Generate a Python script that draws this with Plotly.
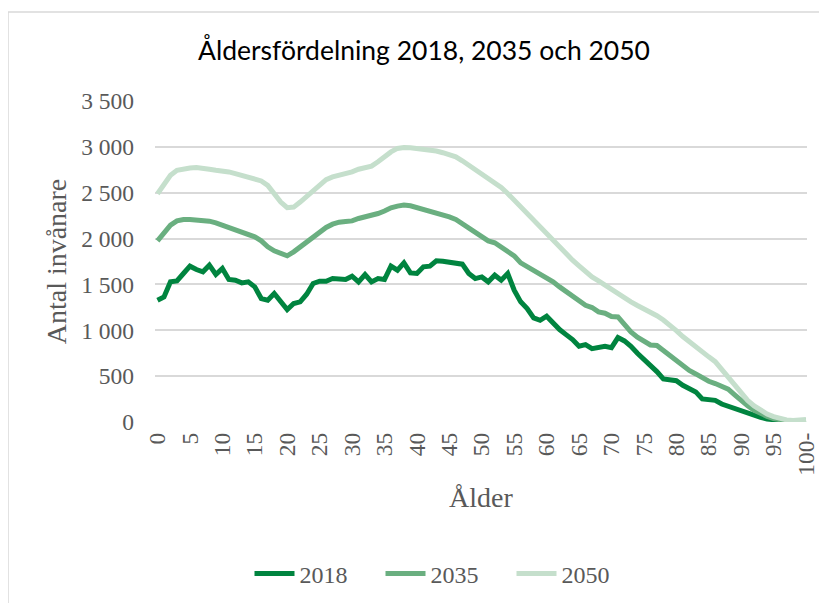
import plotly.graph_objects as go

ages = list(range(0, 101))
age_labels = [str(a) for a in range(0, 100)] + ["100-"]
tick_vals = list(range(0, 101, 5))
tick_text = [age_labels[a] for a in tick_vals]

v2018 = [1328, 1364, 1528, 1539, 1619, 1699, 1662, 1637, 1710, 1608,
         1674, 1554, 1546, 1517, 1528, 1473, 1346, 1328, 1401, 1310,
         1226, 1292, 1310, 1393, 1510, 1535, 1535, 1564, 1564, 1554,
         1590, 1528, 1608, 1528, 1564, 1554, 1699, 1655, 1735, 1626,
         1619, 1692, 1699, 1757, 1753, 1746, 1728, 1721, 1619, 1564,
         1582, 1528, 1601, 1546, 1619, 1437, 1310, 1237, 1135, 1109,
         1153, 1073, 1008, 953, 899, 826, 844, 800, 811, 826,
         811, 920, 884, 826, 750, 688, 622, 550, 470, 453,
         450, 400, 361, 328, 252, 250, 236, 196, 170, 147,
         115, 91, 68, 50, 33, 22, 13, 8, 4, 4,
         10]

v2035 = [1975, 2062, 2146, 2193, 2208, 2208, 2204, 2197, 2190, 2172,
         2146, 2121, 2099, 2073, 2048, 2019, 1975, 1910, 1866, 1844,
         1812, 1855, 1910, 1965, 2019, 2073, 2121, 2157, 2179, 2186,
         2193, 2219, 2237, 2244, 2273, 2300, 2335, 2354, 2365, 2357,
         2339, 2321, 2303, 2285, 2263, 2237, 2208, 2164, 2121, 2073,
         2026, 1975, 1954, 1910, 1866, 1812, 1735, 1692, 1655, 1612,
         1575, 1528, 1473, 1426, 1375, 1321, 1273, 1248, 1200, 1186,
         1150, 1146, 1055, 982, 925, 880, 840, 835, 779, 718,
         665, 610, 562, 524, 477, 444, 419, 382, 358, 296,
         233, 176, 128, 91, 62, 38, 22, 11, 6, 4,
         13]

v2050 = [2489, 2580, 2690, 2745, 2763, 2770, 2774, 2770, 2756, 2745,
         2738, 2727, 2709, 2690, 2679, 2654, 2628, 2580, 2489, 2398,
         2337, 2343, 2398, 2460, 2518, 2580, 2643, 2672, 2687, 2701,
         2727, 2756, 2774, 2790, 2837, 2892, 2945, 2983, 2994, 2990,
         2983, 2972, 2965, 2954, 2936, 2918, 2892, 2848, 2801, 2754,
         2710, 2666, 2612, 2557, 2492, 2419, 2339, 2266, 2190, 2117,
         2045, 1972, 1899, 1830, 1765, 1703, 1637, 1582, 1539, 1492,
         1444, 1393, 1346, 1310, 1270, 1237, 1204, 1159, 1112, 1060,
         997, 932, 873, 815, 760, 710, 658, 573, 478, 386,
         305, 236, 176, 127, 87, 58, 38, 23, 16, 16,
         27]

y_ticks = list(range(0, 3501, 500))
y_tick_text = ["0", "500", "1 000", "1 500", "2 000", "2 500", "3 000", "3 500"]

series = [("2018", v2018, "#00843f"), ("2035", v2035, "#6aaf80"), ("2050", v2050, "#c5dfcc")]

fig = go.Figure()
for name, vals, col in series:
    fig.add_trace(go.Scatter(x=ages, y=vals, name=name, mode="lines",
                             line=dict(color=col, width=5),
                             customdata=age_labels,
                             hovertemplate="%{customdata}: %{y}<extra>" + name + "</extra>"))

serif = "Liberation Serif, Times New Roman, serif"
gray = "#595959"

fig.update_layout(
    width=827, height=603,
    margin=dict(l=147, r=28, t=93, b=189, autoexpand=False),
    paper_bgcolor="white", plot_bgcolor="white",
    title=dict(text="Åldersfördelning 2018, 2035 och 2050",
               font=dict(family="Lato, sans-serif", size=26.5, color="black"),
               x=(416 / 827), xanchor="center", y=1 - 43 / 603, yanchor="middle"),
    xaxis=dict(range=[-0.386, 100.15], tickmode="array", tickvals=tick_vals, ticktext=tick_text,
               tickangle=-90, showgrid=False, zeroline=False, showline=False,
               tickfont=dict(family=serif, size=23.5, color=gray),
               ticks="", ticklabelstandoff=5,
               title=dict(text="Ålder", font=dict(family=serif, size=28, color=gray), standoff=12)),
    yaxis=dict(range=[0, 3500], tickmode="array", tickvals=y_ticks, ticktext=y_tick_text,
               showgrid=True, gridcolor="#d9d9d9", gridwidth=1.5, zeroline=False, showline=False,
               tickfont=dict(family=serif, size=23.5, color=gray), ticks="", ticklabelstandoff=20,
               title=dict(text="Antal invånare", font=dict(family=serif, size=28, color=gray), standoff=6)),
    legend=dict(orientation="h", x=(446 - 155) / 652, xanchor="center",
                y=(422 - 574) / 321, yanchor="middle",
                font=dict(family=serif, size=24, color=gray), itemwidth=40,
                entrywidth=76, entrywidthmode="pixels",
                bgcolor="rgba(0,0,0,0)"),
    showlegend=True,
    shapes=[dict(type="rect", xref="paper", yref="paper",
                 x0=(8 - 155) / 652, x1=(840 - 155) / 652,
                 y0=(422 - 620) / 321, y1=(422 - 12) / 321,
                 line=dict(color="#d9d9d9", width=1.5), fillcolor="rgba(0,0,0,0)", layer="below")],
)

fig.write_html("out.html")
